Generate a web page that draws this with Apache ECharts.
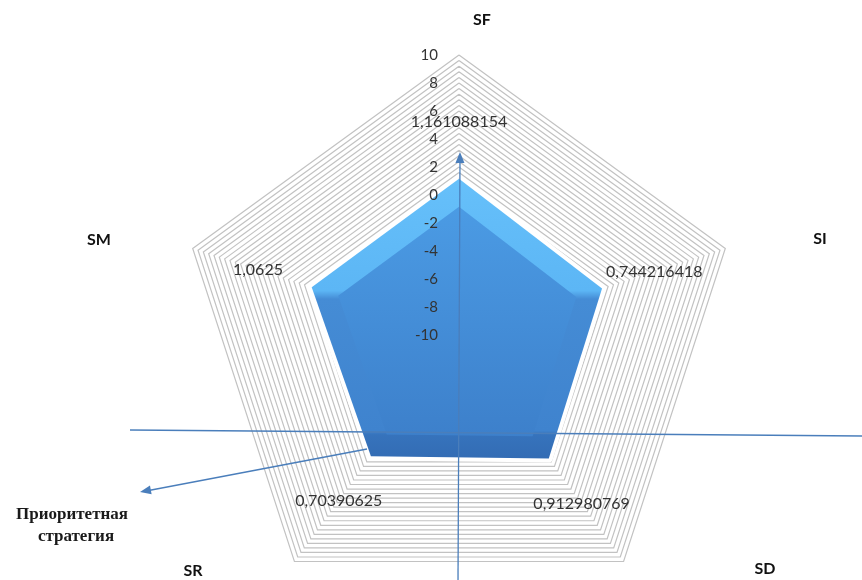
<!DOCTYPE html>
<html>
<head>
<meta charset="utf-8">
<script src="https://cdn.jsdelivr.net/npm/echarts@6/dist/echarts.min.js"></script>
<style>
  html, body { margin: 0; padding: 0; background: #ffffff; }
  #chart { width: 862px; height: 580px; }
</style>
</head>
<body>
<div id="chart"></div>
<script>
// Strategy profile: five indicators, listed clockwise from the top
const categories = ['SF', 'SI', 'SD', 'SR', 'SM'];
const values = [1.161088154, 0.744216418, 0.912980769, 0.70390625, 1.0625];

// Radial scale of every indicator
const axisMin = -10;
const axisMax = 10;
const axisStep = 2;
const minorSplits = 50;

const noteText = ['Приоритетная', 'стратегия'];

// ---- layout ----
const C = [459, 335];
const R = 280;
const bevelScale = 0.82;   // inner face of the bevelled area
const labelScale = 1.365;  // ring where the value labels sit

// ECharts lays radar indicators out counter-clockwise, so reverse all but the first
const order = [0].concat(categories.slice(1).map((_, i) => categories.length - 1 - i));
const indicator = order.map(i => ({ name: categories[i], min: axisMin, max: axisMax }));
const seriesValues = order.map(i => values[i]);

const hidden = {
  axisName: { show: false },
  axisLine: { show: false },
  axisTick: { show: false },
  axisLabel: { show: false },
  splitArea: { show: false }
};

const radars = [
  Object.assign({
    center: C, radius: R, startAngle: 90, shape: 'polygon',
    splitNumber: minorSplits, indicator: indicator,
    splitLine: { lineStyle: { color: '#c2c2c2', width: 1.2 } }
  }, hidden),
  Object.assign({
    center: C, radius: R * bevelScale, startAngle: 90, shape: 'polygon',
    splitNumber: 1, indicator: indicator, splitLine: { show: false }
  }, hidden),
  Object.assign({
    center: C, radius: R * labelScale, startAngle: 90, shape: 'polygon',
    splitNumber: 1, indicator: indicator, splitLine: { show: false }
  }, hidden)
];

const lin = (stops) => new echarts.graphic.LinearGradient(0, 0, 0, 1,
  stops.map(s => ({ offset: s[0], color: s[1] })));

const series = [
  { // white halo round the area
    type: 'radar', radarIndex: 0, z: 2, symbol: 'none', silent: true,
    lineStyle: { color: '#ffffff', width: 8 },
    data: [{ value: seriesValues }]
  },
  { // outer face
    type: 'radar', radarIndex: 0, z: 3, symbol: 'none', silent: true,
    lineStyle: { width: 0, opacity: 0 },
    areaStyle: {
      opacity: 1,
      color: lin([[0, '#66c0fa'], [0.40, '#5cb6f5'], [0.43, '#458cd5'],
                  [0.90, '#3f83ce'], [0.915, '#3673bc'], [1, '#336cb4']])
    },
    data: [{ value: seriesValues }]
  },
  { // inner face
    type: 'radar', radarIndex: 1, z: 4, symbol: 'none', silent: true,
    lineStyle: { width: 0, opacity: 0 },
    areaStyle: {
      opacity: 1,
      color: lin([[0, '#4b9be4'], [1, '#3d80cb']])
    },
    data: [{ value: seriesValues }]
  },
  { // value labels
    type: 'radar', radarIndex: 2, z: 6, symbol: 'circle', symbolSize: 1, silent: true,
    itemStyle: { color: 'rgba(0,0,0,0)' },
    lineStyle: { width: 0, opacity: 0 },
    label: {
      show: true, position: 'inside', color: '#333333',
      fontFamily: 'Lato', fontSize: 16,
      formatter: p => String(p.value).replace('.', ',')
    },
    data: [{ value: seriesValues }]
  }
];

// ---- annotation drawing ----
const lineColor = '#4a7ebb';
function segment(x1, y1, x2, y2) {
  return { type: 'line', z: 100, silent: true,
    shape: { x1, y1, x2, y2 }, style: { stroke: lineColor, lineWidth: 1.3 } };
}
function arrowHead(x1, y1, x2, y2) {
  const a = Math.atan2(y2 - y1, x2 - x1), len = 11, half = 4.5;
  const bx = x2 - len * Math.cos(a), by = y2 - len * Math.sin(a);
  const nx = -Math.sin(a) * half, ny = Math.cos(a) * half;
  return { type: 'polygon', z: 101, silent: true,
    shape: { points: [[x2, y2], [bx + nx, by + ny], [bx - nx, by - ny]] },
    style: { fill: lineColor } };
}

const namePos = [[482, 20], [820, 239], [765, 569], [193, 571], [99, 240]];
const nameTexts = categories.map((c, i) => ({
  type: 'text', z: 100, silent: true, x: namePos[i][0], y: namePos[i][1],
  style: { text: c, fill: '#111111', font: 'bold 16px Lato', align: 'center', verticalAlign: 'middle' }
}));

const noteFont = 'bold 17px "Liberation Serif"';
const graphics = [
  segment(130, 430, 862, 436),
  segment(458, 580, 460, 158), arrowHead(458, 580, 460, 152),
  segment(367, 449, 146, 491), arrowHead(367, 449, 140, 492),
  { type: 'text', z: 100, silent: true, x: 72, y: 515,
    style: { text: noteText[0], fill: '#1a1a1a', font: noteFont, align: 'center', verticalAlign: 'middle' } },
  { type: 'text', z: 100, silent: true, x: 76, y: 537,
    style: { text: noteText[1], fill: '#1a1a1a', font: noteFont, align: 'center', verticalAlign: 'middle' } }
].concat(nameTexts);

const chart = echarts.init(document.getElementById('chart'), null, { renderer: 'canvas' });
chart.setOption({
  animation: false,
  backgroundColor: '#ffffff',
  radar: radars,
  // value scale printed along the first spoke
  grid: { left: C[0] - 15, top: C[1] - R, width: 20, height: R, containLabel: false },
  xAxis: { type: 'value', show: false },
  yAxis: {
    type: 'value', min: axisMin, max: axisMax, interval: axisStep, z: 10,
    axisLine: { show: false }, axisTick: { show: false }, splitLine: { show: false },
    axisLabel: { color: '#333333', fontFamily: 'Lato', fontSize: 15, margin: 6 }
  },
  series: series,
  graphic: graphics
});
</script>
</body>
</html>
